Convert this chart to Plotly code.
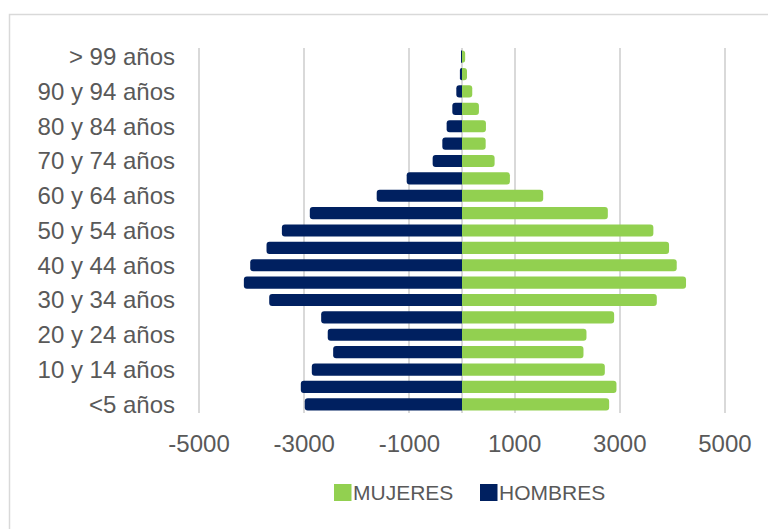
import plotly.graph_objects as go

age_groups = ["<5 años", "5 y 9 años", "10 y 14 años", "15 y 19 años", "20 y 24 años",
              "25 y 29 años", "30 y 34 años", "35 y 39 años", "40 y 44 años", "45 y 49 años",
              "50 y 54 años", "55 y 59 años", "60 y 64 años", "65 y 69 años", "70 y 74 años",
              "75 y 79 años", "80 y 84 años", "85 y 89 años", "90 y 94 años", "95 y 99 años",
              "> 99 años"]

hombres = [2990, 3065, 2856, 2450, 2553, 2678, 3666, 4148, 4027, 3717,
           3425, 2894, 1622, 1052, 558, 374, 292, 184, 108, 40, 10]

mujeres = [2798, 2937, 2716, 2310, 2367, 2893, 3704, 4260, 4083, 3937,
           3639, 2773, 1544, 911, 620, 450, 455, 322, 195, 95, 60]

shown_age_labels = ["<5 años", "10 y 14 años", "20 y 24 años", "30 y 34 años", "40 y 44 años",
                    "50 y 54 años", "60 y 64 años", "70 y 74 años", "80 y 84 años",
                    "90 y 94 años", "> 99 años"]

x_tick_vals = [-5000, -3000, -1000, 1000, 3000, 5000]
x_tick_text = ["-5000", "-3000", "-1000", "1000", "3000", "5000"]

series_names = ["MUJERES", "HOMBRES"]

GREEN = "#92D050"
NAVY = "#002060"
TEXT = "#595959"
GRID = "#D9D9D9"
FONT = "Liberation Sans, Arial, sans-serif"

fig = go.Figure()
fig.add_trace(go.Bar(
    y=age_groups, x=mujeres, orientation="h", name=series_names[0],
    marker=dict(color=GREEN, cornerradius=3, line=dict(width=0)),
))
fig.add_trace(go.Bar(
    y=age_groups, x=[-v for v in hombres], orientation="h", name=series_names[1],
    marker=dict(color=NAVY, cornerradius=3, line=dict(width=0)),
))

# page body has an 8px margin, so the figure is laid out in page coords minus 8
W, H = 768, 521
L, R, T, B = 190, 50, 40, 116
pw, ph = W - L - R, H - T - B

def px_x(p):
    return (p - L) / pw

def px_y(p):
    return (H - B - p) / ph

shapes = [dict(type="rect", xref="paper", yref="paper",
               x0=px_x(1.5), x1=px_x(800), y0=px_y(560), y1=px_y(6.5),
               line=dict(color=GRID, width=1.5), fillcolor="rgba(0,0,0,0)", layer="below")]
annotations = []

# manual legend: square swatch + label
legend_items = [(series_names[0], GREEN, 326), (series_names[1], NAVY, 472)]
for name, color, x0 in legend_items:
    shapes.append(dict(type="rect", xref="paper", yref="paper",
                       x0=px_x(x0), x1=px_x(x0 + 17.5), y0=px_y(493), y1=px_y(476),
                       line=dict(width=0), fillcolor=color))
    annotations.append(dict(xref="paper", yref="paper", x=px_x(x0 + 17), y=px_y(484.5),
                            xanchor="left", yanchor="middle", showarrow=False, text=name,
                            font=dict(family=FONT, size=21, color=TEXT)))

fig.update_layout(
    width=W, height=H,
    margin=dict(l=L, r=R, t=T, b=B, autoexpand=False),
    paper_bgcolor="white", plot_bgcolor="white",
    barmode="relative", bargap=0.3,
    font=dict(family=FONT, size=24, color=TEXT),
    showlegend=False,
    xaxis=dict(range=[-5020, 5020], tickvals=x_tick_vals, ticktext=x_tick_text,
               showgrid=True, gridcolor=GRID, gridwidth=1.5,
               zeroline=True, zerolinecolor=GRID, zerolinewidth=1.5,
               showline=False, ticks="", ticklabelstandoff=14,
               tickfont=dict(size=24, color=TEXT), fixedrange=True, automargin=False),
    yaxis=dict(type="category", categoryorder="array", categoryarray=age_groups,
               tickmode="array", tickvals=shown_age_labels,
               showgrid=False, zeroline=False, showline=False, ticks="",
               ticklabelstandoff=22, tickfont=dict(size=24, color=TEXT),
               fixedrange=True, automargin=False),
    shapes=shapes,
    annotations=annotations,
)

fig.write_html("out.html")
